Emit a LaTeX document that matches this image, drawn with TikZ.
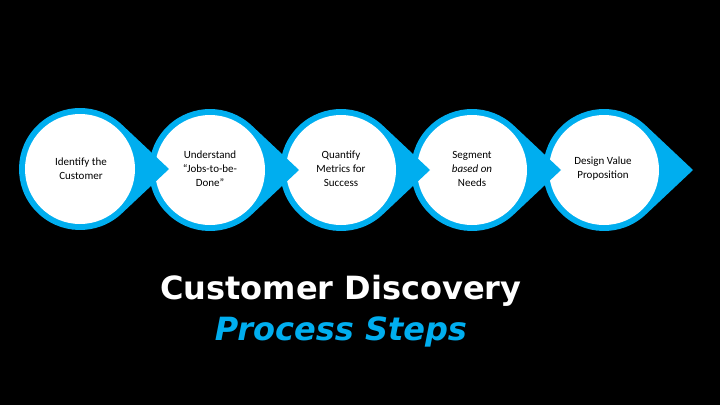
\documentclass[tikz,border=0pt]{standalone}
\usepackage{fontspec}
\setmainfont{Carlito}
\newfontfamily\titlefont{DejaVu Sans}
\definecolor{cblue}{RGB}{0,174,239}
\begin{document}
\begin{tikzpicture}[x=1pt,y=-1pt,
  steptext/.style={align=center,font=\fontsize{11}{14}\selectfont,text=black}]
\fill[black] (0,0) rectangle (720,405);
\useasboundingbox (0,0) rectangle (720,405);
\foreach \cx/\cy in {604/170,472/170,341/170,210/170,80/169}{
  \fill[cblue] ({\cx+61*cos(46.7)},{\cy-61*sin(46.7)}) -- (\cx+89,\cy) -- ({\cx+61*cos(46.7)},{\cy+61*sin(46.7)})
     arc[start angle=46.7,end angle=313.3,radius=61] -- cycle;
  \fill[white] (\cx,\cy) circle[radius=55];
}
\node[steptext] (s1) at (81,169) {Identify the\\Customer};
\node[steptext] (s2) at (210,169) {Understand\\“Jobs-to-be-\\Done”};
\node[steptext] (s3) at (341,169) {Quantify\\Metrics for\\Success};
\node[steptext] (s4) at (472,169) {Segment\\\textit{based on}\\Needs};
\node[steptext] (s5) at (603,169) {Design Value\\Proposition};
\node[font=\titlefont\bfseries\fontsize{32}{41}\selectfont,text=white,align=center] (t) at (341,311)
  {Customer Discovery\\\textcolor{cblue}{\itshape Process Steps}};
\end{tikzpicture}
\end{document}
